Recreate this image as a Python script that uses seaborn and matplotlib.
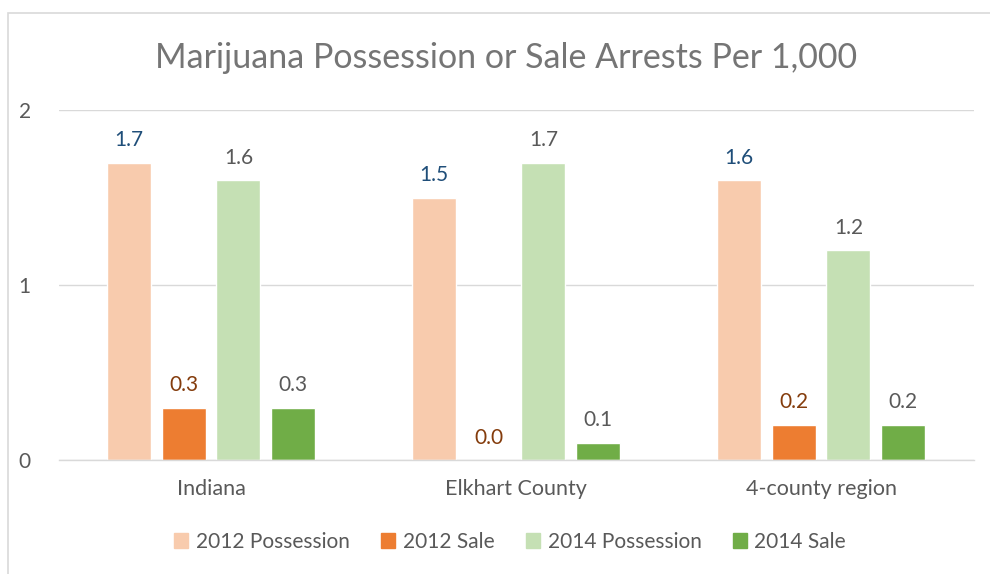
import matplotlib
matplotlib.use("Agg")
import matplotlib.pyplot as plt
from matplotlib.patches import Rectangle
import seaborn as sns
import pandas as pd

# === Data ===
regions = ["Indiana", "Elkhart County", "4-county region"]
series = ["2012 Possession", "2012 Sale", "2014 Possession", "2014 Sale"]
poss_2012 = [1.7, 1.5, 1.6]
sale_2012 = [0.3, 0.0, 0.2]
poss_2014 = [1.6, 1.7, 1.2]
sale_2014 = [0.3, 0.1, 0.2]

colors = ["#F8CBAD", "#ED7D31", "#C5E0B4", "#70AD47"]
label_colors = ["#1F4E79", "#843C0C", "#595959", "#595959"]

df = pd.DataFrame({
    "Region": regions * 4,
    "Series": [s for s in series for _ in regions],
    "Value": poss_2012 + sale_2012 + poss_2014 + sale_2014,
})

sns.set_theme(style="white")
plt.rcParams["font.family"] = ["Lato", "DejaVu Sans"]

fig = plt.figure(figsize=(9.9, 5.74), dpi=100)
ax = fig.add_axes([58.5 / 990, 1 - 460 / 574, 915 / 990, 350 / 574])

sns.barplot(data=df, x="Region", y="Value", hue="Series", hue_order=series,
            order=regions, palette=colors, width=0.72, gap=0.2,
            saturation=1, legend=False, ax=ax)

# data labels above each bar
for cont, lc in zip(ax.containers, label_colors):
    labels = [f"{v:.1f}" for v in cont.datavalues]
    ax.bar_label(cont, labels=labels, padding=9, color=lc, fontsize=15)

ax.set_ylim(0, 2)
ax.set_xlim(-0.5, 2.5)
ax.set_yticks([0, 1, 2])
ax.yaxis.grid(True, color="#D9D9D9", linewidth=1)
ax.set_axisbelow(True)
for s in ["top", "right", "left"]:
    ax.spines[s].set_visible(False)
ax.spines["bottom"].set_color("#D9D9D9")
ax.spines["bottom"].set_linewidth(1)
ax.tick_params(axis="y", length=0, pad=20, labelsize=15, labelcolor="#595959")
ax.tick_params(axis="x", length=0, pad=14, labelsize=15.5, labelcolor="#595959")
ax.set_xlabel("")
ax.set_ylabel("")

fig.text(506 / 990, 1 - 58 / 574, "Marijuana Possession or Sale Arrests Per 1,000",
         ha="center", va="center", fontsize=24.5, color="#757575")

handles = [Rectangle((0, 0), 1, 1, color=c) for c in colors]
fig.legend(handles, series, loc="center", bbox_to_anchor=(510 / 990, 1 - 542 / 574),
           ncol=4, frameon=False, fontsize=15, labelcolor="#595959",
           handlelength=0.7, handleheight=0.7, handletextpad=0.35, columnspacing=1.5)

# light chart border
fig.patches.append(Rectangle((8 / 990, -0.05), 1.1, 1 - 13 / 574 + 0.05,
                             transform=fig.transFigure, fill=False,
                             edgecolor="#D9D9D9", linewidth=1.2))

fig.savefig("out.png", dpi=100)
